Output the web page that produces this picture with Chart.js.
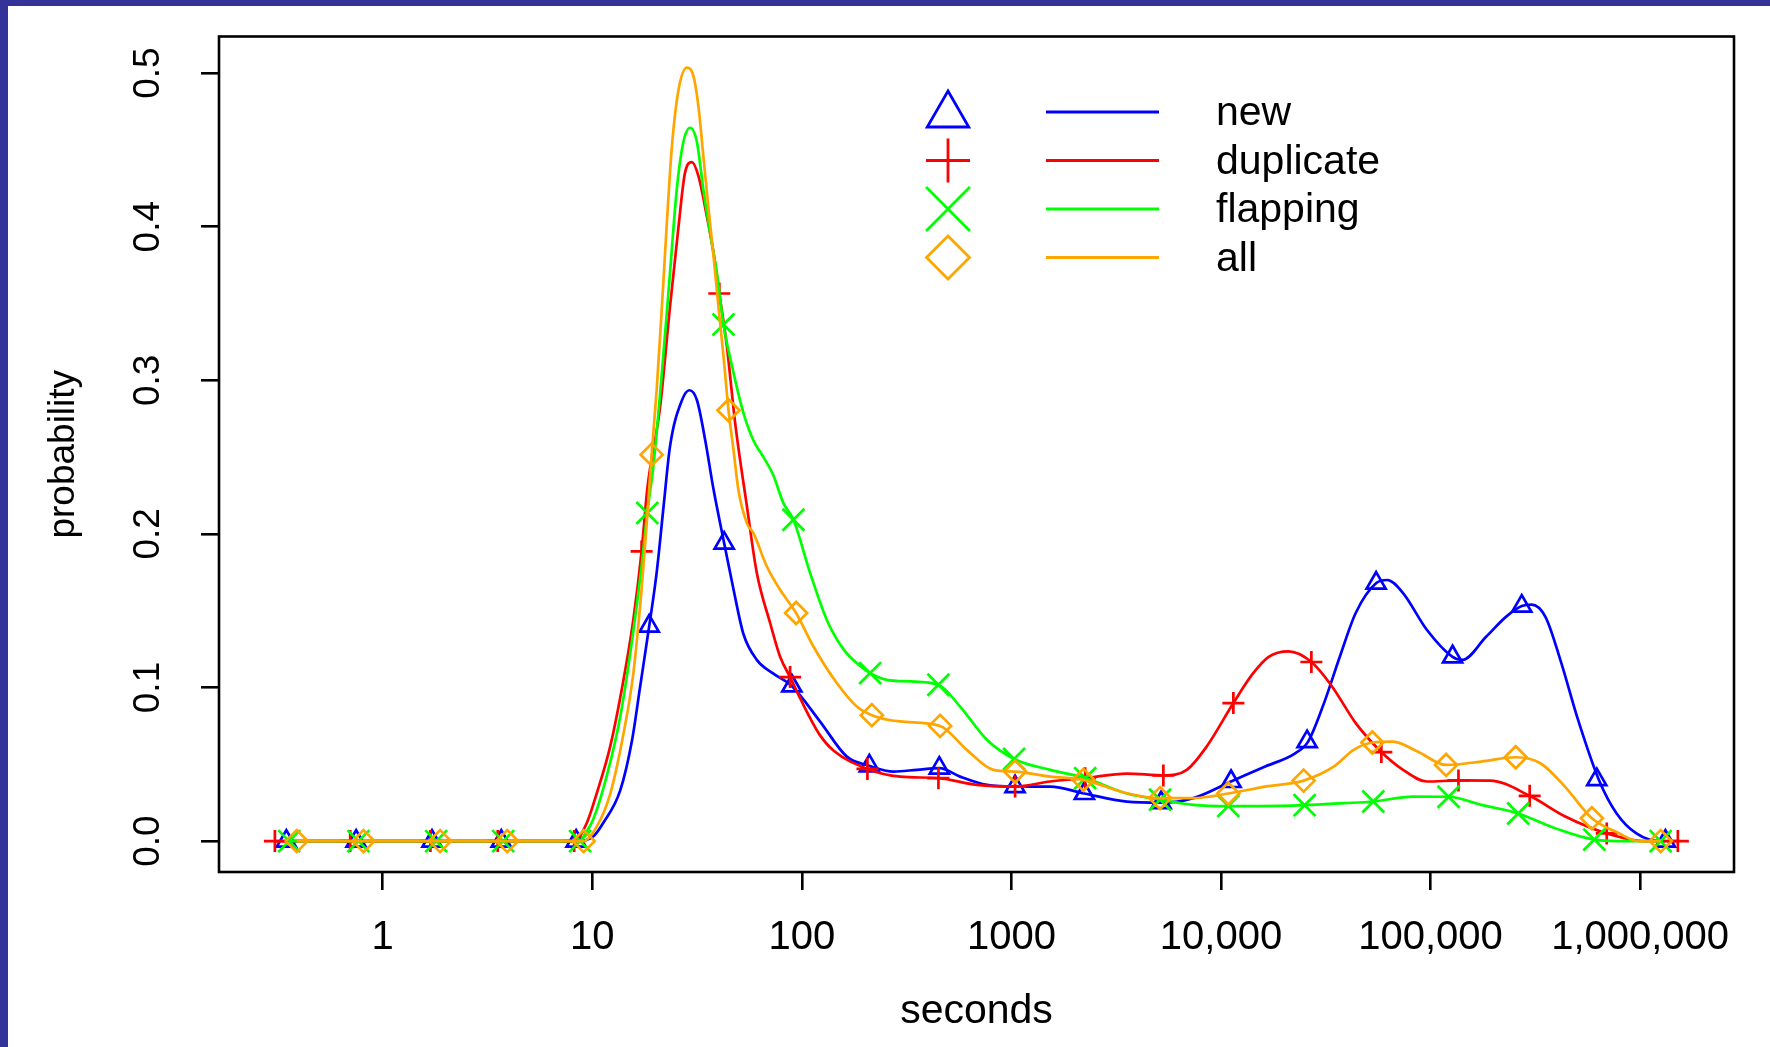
<!DOCTYPE html>
<html>
<head>
<meta charset="utf-8">
<script src="https://cdn.jsdelivr.net/npm/chart.js@4.4.1/dist/chart.umd.min.js"></script>
<style>
html,body{margin:0;padding:0;background:#fff;overflow:hidden;}
#wrap{position:relative;width:1770px;height:1047px;background:#fff;}
#c{position:absolute;left:0;top:0;}
.stripTop{position:absolute;left:0;top:0;width:1770px;height:6px;background:#333399;}
.stripLeft{position:absolute;left:0;top:0;width:8px;height:1047px;background:#333399;}
</style>
</head>
<body>
<div id="wrap">
<canvas id="c" width="1770" height="1047"></canvas>
<div class="stripTop"></div><div class="stripLeft"></div>
</div>
<script>
// ---------- data ----------
const seriesNames = ['new', 'duplicate', 'flapping', 'all'];
const xTickValues = [1, 10, 100, 1000, 10000, 100000, 1000000];
const xTickLabels = ['1', '10', '100', '1000', '10,000', '100,000', '1,000,000'];
const yTickValues = [0, 0.1, 0.2, 0.3, 0.4, 0.5];
const yTickLabels = ['0.0', '0.1', '0.2', '0.3', '0.4', '0.5'];
const xTitle = 'seconds';
const yTitle = 'probability';

// markers (x in seconds, y probability)
const newMarkX = [0.347,0.747,1.72,3.68,8.38,18.7,42.6,89.6,210,453,1041,2230,5180,11170,25760,55000,127400,272400,621000,1320000];
const newMarkY = [0,0,0,0,0,0.140,0.194,0.101,0.049,0.0475,0.0355,0.031,0.025,0.0388,0.0648,0.168,0.120,0.153,0.040,0];
const dupMarkX = [0.306,0.70,1.69,3.54,8.2,17.2,40.4,87.9,205.6,448.6,1041,2249,5310,11460,27000,58250,135900,297200,693000,1514000];
const dupMarkY = [0,0,0,0,0,0.1886,0.3565,0.1068,0.047,0.041,0.0355,0.041,0.0428,0.0899,0.1166,0.058,0.0395,0.0295,0.005,0];
const flapMarkX = [0.358,0.766,1.80,3.76,8.75,18.3,42.3,91.2,211.8,448.6,1030,2249,5120,10840,25060,53330,121900,261800,604000,1253000];
const flapMarkY = [0,0,0,0,0,0.2136,0.3363,0.2092,0.1094,0.1018,0.0535,0.041,0.027,0.0228,0.0234,0.0258,0.0289,0.018,0.001,0];
const allMarkX = [0.389,0.81,1.88,3.93,9.1,19.2,44.7,93.9,215.8,457,1041,2206,5120,10840,24790,52760,118600,254900,588500,1253000];
const allMarkY = [0,0,0,0,0,0.2516,0.2805,0.1485,0.082,0.075,0.0453,0.0399,0.028,0.031,0.0394,0.0642,0.0496,0.0546,0.0149,0];

// smooth curves
const newLineX = [0.347,0.747,1.72,3.68,8.38,10.1,11.3,13.6,15.5,16.9,18.7,20.3,21.9,23.5,26.8,29.1,31.6,34.6,37.9,42.6,47.2,52.6,61,73.2,89.6,122,164,210,274,354,454,569,764,1041,1531,2230,3553,5180,7380,11170,16260,22490,26050,31050,36900,43950,55080,62120,73910,95990,127300,142000,184100,229000,272400,303600,353300,420500,500100,635000,772700,960000,1245000,1320000];
const newLineY = [0,0,0,0,0,0.003,0.012,0.033,0.066,0.100,0.140,0.175,0.218,0.257,0.287,0.2935,0.287,0.261,0.229,0.194,0.164,0.135,0.118,0.109,0.101,0.078,0.055,0.049,0.0453,0.0464,0.0475,0.042,0.0366,0.0355,0.0355,0.031,0.0257,0.025,0.028,0.0388,0.0486,0.057,0.0648,0.090,0.120,0.1485,0.168,0.170,0.1615,0.1376,0.120,0.118,0.133,0.146,0.153,0.154,0.146,0.116,0.081,0.040,0.018,0.005,0,0];
const dupLineX = [0.306,0.70,1.69,3.54,8.2,9.43,10.5,12.2,14.1,15.7,17.2,18.3,21.1,23.5,25.8,27.7,29.9,32.1,35.2,37.9,40.4,43.9,48.1,54.7,61,70.6,78.8,87.9,98.2,109.6,122,141.5,205.6,294.5,448.6,683.9,1041,1531,2249,3553,5310,6870,8550,11460,14190,16890,21000,27000,33880,43950,58250,73910,95990,135900,192300,297200,439300,693000,1047000,1514000];
const dupLineY = [0,0,0,0,0,0.012,0.031,0.062,0.105,0.144,0.1886,0.229,0.283,0.348,0.400,0.435,0.442,0.433,0.407,0.383,0.3565,0.322,0.272,0.218,0.1745,0.142,0.120,0.1068,0.093,0.080,0.069,0.059,0.047,0.042,0.041,0.0366,0.0355,0.0388,0.041,0.044,0.0428,0.0464,0.0616,0.0899,0.109,0.120,0.1235,0.1166,0.1007,0.0768,0.058,0.0464,0.0388,0.0395,0.0394,0.0295,0.016,0.005,0,0];
const flapLineX = [0.358,0.766,1.80,3.76,8.75,9.08,10.1,11.7,13.6,15.5,17.2,18.3,19.6,21.5,23.5,25.3,27.2,29.3,31.6,33.9,36.5,39.3,42.3,47.2,52.6,58.7,65.6,73.2,81.7,91.2,109.6,131.6,157.9,189.7,211.8,254.6,328.6,448.6,569,764,1030,1531,2249,3553,5120,7380,10840,15350,25060,38570,53330,82200,121900,174600,261800,392700,604000,883000,1253000];
const flapLineY = [0,0,0,0,0,0.003,0.014,0.042,0.081,0.131,0.179,0.2136,0.245,0.305,0.370,0.424,0.455,0.4644,0.455,0.424,0.396,0.370,0.3363,0.305,0.279,0.261,0.250,0.238,0.220,0.2092,0.1745,0.144,0.125,0.114,0.1094,0.105,0.104,0.1018,0.0876,0.066,0.0535,0.0464,0.041,0.031,0.027,0.0236,0.0228,0.0228,0.0234,0.0247,0.0258,0.029,0.0289,0.0236,0.018,0.0084,0.001,0,0];
const allLineX = [0.389,0.81,1.88,3.93,9.1,10.5,12.2,14.1,15.7,17.2,18.3,19.2,20.3,21.5,22.7,24.0,25.8,28.3,30.4,32.1,33.9,35.8,37.9,40.0,42.3,44.7,47.2,49.8,54.7,58.7,68.1,78.8,93.9,113.6,146.9,182.9,215.8,294.5,457,612.6,820.4,1041,1531,2206,3553,5120,7380,10840,16260,24790,34660,42960,52760,66110,86690,118600,174600,254900,334300,437500,588500,792100,982300,1253000];
const allLineY = [0,0,0,0,0,0.0094,0.031,0.070,0.109,0.164,0.211,0.2516,0.294,0.348,0.4025,0.4524,0.489,0.5035,0.498,0.4785,0.446,0.413,0.381,0.348,0.3156,0.2805,0.2548,0.2288,0.207,0.2006,0.1788,0.1636,0.1485,0.1267,0.1029,0.0876,0.082,0.0779,0.075,0.0594,0.0464,0.0453,0.042,0.0399,0.0312,0.028,0.028,0.031,0.0355,0.0394,0.0486,0.0594,0.0642,0.0648,0.0583,0.0496,0.0518,0.0546,0.0507,0.0355,0.0149,0.0051,0,0];

// ---------- styling ----------
const FONT = "'Liberation Sans', Arial, Helvetica, sans-serif";
const colors = ['#0000FF', '#FF0000', '#00FF00', '#FFA500'];
const styles = ['triangle', 'cross', 'crossRot', 'rectRot'];
const markRadius = [11, 11, 15.5, 11];
const X_MIN = 0.1656, X_MAX = 2.805e6;
const Y_MIN = -0.0201, Y_MAX = 0.5238;

Chart.defaults.font.family = FONT;
Chart.defaults.color = '#000';

const pairs = (xs, ys) => xs.map((x, i) => ({x: x, y: ys[i]}));
const lines = [[newLineX, newLineY], [dupLineX, dupLineY], [flapLineX, flapLineY], [allLineX, allLineY]];
const marks = [[newMarkX, newMarkY], [dupMarkX, dupMarkY], [flapMarkX, flapMarkY], [allMarkX, allMarkY]];

const datasets = [];
for (let i = 0; i < 4; i++) {
  datasets.push({
    type: 'line', label: seriesNames[i], data: pairs(lines[i][0], lines[i][1]),
    borderColor: colors[i], borderWidth: 2.7, pointRadius: 0, pointHoverRadius: 0,
    cubicInterpolationMode: 'monotone', fill: false, order: 8 - 2 * i
  });
  datasets.push({
    type: 'line', label: seriesNames[i] + ' points', data: pairs(marks[i][0], marks[i][1]),
    showLine: false, pointStyle: styles[i], pointRadius: markRadius[i], pointHoverRadius: markRadius[i],
    pointBorderColor: colors[i], pointBackgroundColor: 'rgba(0,0,0,0)', pointBorderWidth: 2.7,
    borderColor: colors[i], order: 7 - 2 * i
  });
}

const boxPlugin = {
  id: 'rbox',
  afterDraw(chart) {
    const {ctx, chartArea: a} = chart;
    ctx.save();
    ctx.strokeStyle = '#000';
    ctx.lineWidth = 2.6;
    ctx.strokeRect(a.left, a.top, a.right - a.left, a.bottom - a.top);
    ctx.restore();
  }
};

function drawMarker(ctx, style, x, y, r) {
  ctx.beginPath();
  if (style === 'triangle') {
    ctx.moveTo(x, y - r);
    ctx.lineTo(x + 0.866 * r, y + r / 2);
    ctx.lineTo(x - 0.866 * r, y + r / 2);
    ctx.closePath();
  } else if (style === 'cross') {
    ctx.moveTo(x - r, y); ctx.lineTo(x + r, y);
    ctx.moveTo(x, y - r); ctx.lineTo(x, y + r);
  } else if (style === 'crossRot') {
    const k = r * Math.SQRT1_2;
    ctx.moveTo(x - k, y - k); ctx.lineTo(x + k, y + k);
    ctx.moveTo(x - k, y + k); ctx.lineTo(x + k, y - k);
  } else {
    ctx.moveTo(x - r, y); ctx.lineTo(x, y - r); ctx.lineTo(x + r, y); ctx.lineTo(x, y + r);
    ctx.closePath();
  }
  ctx.stroke();
}

const legendPlugin = {
  id: 'rlegend',
  afterDraw(chart) {
    const ctx = chart.ctx;
    const rowY = [112, 160.5, 209, 257.5];
    const markerX = 948, lineX1 = 1046, lineX2 = 1159, textX = 1216;
    const legR = [24, 22, 31, 21.5];
    const legDy = [3, 0, 0, 0];
    ctx.save();
    ctx.lineWidth = 2.8;
    ctx.font = '41px ' + FONT;
    ctx.textBaseline = 'middle';
    ctx.textAlign = 'left';
    for (let i = 0; i < seriesNames.length; i++) {
      const y = rowY[i];
      ctx.strokeStyle = colors[i];
      drawMarker(ctx, styles[i], markerX, y + legDy[i], legR[i]);
      ctx.beginPath();
      ctx.moveTo(lineX1, y); ctx.lineTo(lineX2, y);
      ctx.stroke();
      ctx.fillStyle = '#000';
      ctx.fillText(seriesNames[i], textX, y + 2);
    }
    ctx.restore();
  }
};

new Chart(document.getElementById('c'), {
  data: {datasets: datasets},
  options: {
    responsive: false,
    animation: false,
    events: [],
    devicePixelRatio: 1,
    layout: {padding: {left: 0, top: 36.5, right: 36, bottom: 0}},
    plugins: {legend: {display: false}, tooltip: {enabled: false}, title: {display: false}},
    scales: {
      x: {
        type: 'logarithmic', position: 'bottom', min: X_MIN, max: X_MAX,
        afterBuildTicks: s => { s.ticks = xTickValues.map(v => ({value: v})); },
        afterFit: s => { s.height = 175; s.paddingLeft = 0; s.paddingRight = 0; s.paddingTop = 0; s.paddingBottom = 0; },
        ticks: {
          autoSkip: false, maxRotation: 0, minRotation: 0, padding: 24, color: '#000',
          font: {family: FONT, size: 40},
          callback: v => xTickLabels[xTickValues.indexOf(v)]
        },
        grid: {drawOnChartArea: false, drawTicks: true, tickLength: 18, tickWidth: 2.6, tickColor: '#000', color: '#000', lineWidth: 2.6},
        border: {display: false},
        title: {display: true, text: xTitle, color: '#000', font: {family: FONT, size: 41}, padding: {top: 0, bottom: 11}}
      },
      y: {
        type: 'linear', position: 'left', min: Y_MIN, max: Y_MAX,
        afterBuildTicks: s => { s.ticks = yTickValues.map(v => ({value: v})); },
        afterFit: s => { s.width = 219; s.paddingLeft = 0; s.paddingRight = 0; s.paddingTop = 0; s.paddingBottom = 0; },
        ticks: {
          autoSkip: false, minRotation: 90, maxRotation: 90, crossAlign: 'center', padding: 26, color: '#000',
          font: {family: FONT, size: 37},
          callback: v => yTickLabels[yTickValues.indexOf(v)]
        },
        grid: {drawOnChartArea: false, drawTicks: true, tickLength: 18, tickWidth: 2.6, tickColor: '#000', color: '#000', lineWidth: 2.6},
        border: {display: false},
        title: {display: true, text: yTitle, color: '#000', font: {family: FONT, size: 37}, padding: {top: 42, bottom: 0}}
      }
    }
  },
  plugins: [boxPlugin, legendPlugin]
});
</script>
</body>
</html>
